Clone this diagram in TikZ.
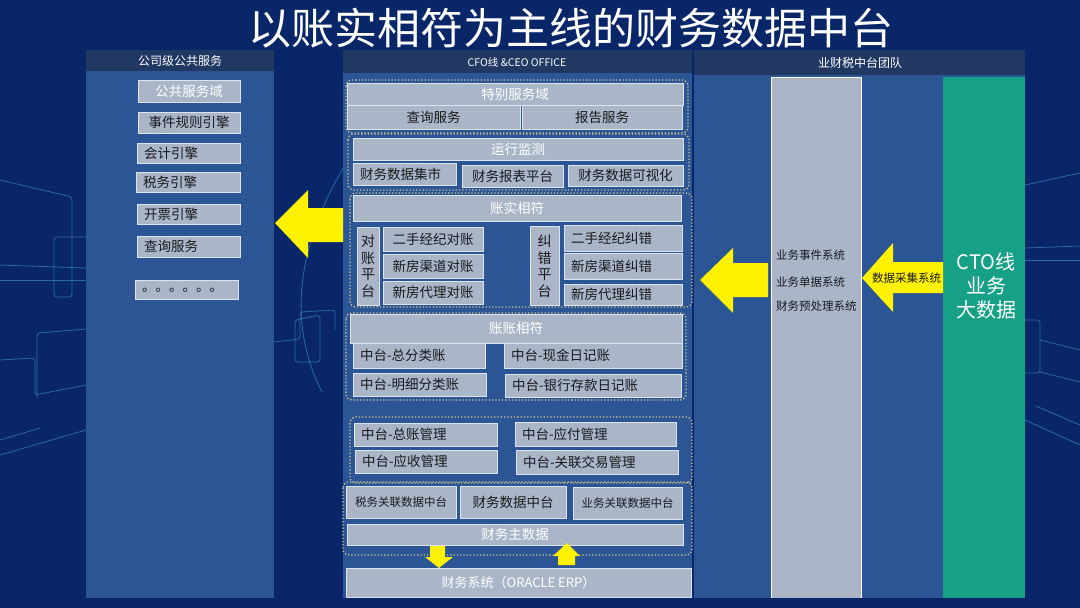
\documentclass[tikz,border=0pt]{standalone}
\usepackage{fontspec}
\setmainfont{Noto Sans CJK SC}
\usetikzlibrary{positioning}

\definecolor{bgnavy}{RGB}{8,38,104}
\definecolor{panelblue}{RGB}{44,85,150}
\definecolor{headband}{RGB}{32,56,98}
\definecolor{boxgray}{RGB}{170,182,200}
\definecolor{boxedge}{RGB}{220,228,240}
\definecolor{dotline}{RGB}{205,198,140}
\definecolor{ctoteal}{RGB}{22,160,133}
\definecolor{lineglow}{RGB}{80,170,225}
\definecolor{inkdark}{RGB}{25,25,30}

\newcommand{\fsz}[1]{\fontsize{#1}{#1}\selectfont}

\begin{document}
\begin{tikzpicture}[x=1pt, y=-1pt,
        box/.style={draw=boxedge, fill=boxgray, line width=0.7pt, inner sep=0pt,
                text=inkdark, font=\fsz{13.5}},
        lbox/.style={box, align=left, inner xsep=7pt},
        ttl/.style={box, text=white},
        grp/.style={draw=dotline, dotted, line width=1.3pt, rounded corners=6pt},
        hdr/.style={text=white, font=\fsz{12}},
        sidetxt/.style={text=inkdark, font=\fsz{11.5}, anchor=west, inner sep=0pt},
        glow/.style={draw=lineglow, opacity=0.5, line width=0.8pt, rounded corners=3pt},
        bigarrow/.style={fill=yellow, draw=none}]

        \useasboundingbox (0,0) rectangle (1080,608);
        \fill[bgnavy] (0,0) rectangle (1080,608);

        %-- Hintergrund: feine Leiterbahnen --
        \draw[glow] (0,180) -- (72,197) -- (72,297) -- (54,297) -- (54,237) -- (86,237);
        \draw[glow] (0,265) -- (86,268);
        \draw[glow] (0,280) -- (86,280);
        \draw[glow] (0,360) -- (35,358) -- (35,395) -- (86,385);
        \draw[glow] (37,398) -- (37,333) -- (86,329);
        \draw[glow] (0,440) -- (40,428);
        \draw[glow] (0,455) -- (86,430);
        \draw[glow] (1025,185) -- (1080,173);
        \draw[glow] (1025,248) -- (1080,246);
        \draw[glow] (1025,260) -- (1080,260);
        \draw[glow] (1025,320) -- (1040,320) -- (1040,373) -- (1025,373);
        \draw[glow] (1040,340) -- (1080,350);
        \draw[glow] (1040,372) -- (1080,382);
        \draw[glow] (1036,406) -- (1080,425);
        \draw[glow] (1025,420) -- (1080,445);
        \draw[draw=lineglow, opacity=0.5, line width=0.8pt]
        (345,165) .. controls (300,240) and (285,320) .. (322,392);
        \draw[glow] (274,342) -- (300,339) -- (300,312) -- (335,310) -- (335,330);
        \draw[glow] (295,320) -- (320,315) -- (320,362) -- (295,362) -- cycle;

        %-- Titel --
        \node[text=white, font=\fsz{43}] (title) at (571,28) {以账实相符为主线的财务数据中台};

        %-- Linke Spalte: Gemeinsame Dienste --
        \fill[panelblue] (86,50) rectangle (274,598);
        \fill[headband] (86,50) rectangle (274,71);
        \node[hdr] (lhdr) at (180,61) {公司级公共服务};

        \node[ttl, minimum width=102, minimum height=22] (ggfw) at (189,91) {公共服务域};
        \node[box, minimum width=102, minimum height=21] (sjgz) at (189,122.5) {事件规则引擎};
        \node[lbox, text width=89, minimum height=20] (kjyq) at (188.5,153) {会计引擎};
        \node[lbox, text width=90, minimum height=20] (swyq) at (188,182) {税务引擎};
        \node[lbox, text width=89, minimum height=20] (kpyq) at (188.5,214) {开票引擎};
        \node[lbox, text width=89, minimum height=21] (cxfw) at (188.5,246.5) {查询服务};
        \node[lbox, text width=89, minimum height=19, text depth=-3pt] (more) at (186.5,289.5) {。。。。。。};

        %-- Mittlere Spalte: CFO --
        \fill[panelblue] (343,50) rectangle (692,598);
        \fill[headband] (343,50) rectangle (692,73);
        \node[hdr, font=\fsz{10.5}] (mhdr) at (517,62) {CFO线 \&CEO OFFICE};

        % Gruppe 1
        \draw[grp] (346,80) rectangle (688,133);
        \node[ttl, minimum width=336, minimum height=22] (tbfw) at (515,94) {特别服务域};
        \node[box, minimum width=173, minimum height=24] (cxfw2) at (433.5,117) {查询服务};
        \node[box, minimum width=160, minimum height=24] (bgfw) at (602,117) {报告服务};

        % Gruppe 2
        \draw[grp] (348,134) rectangle (689,190);
        \node[ttl, minimum width=330, minimum height=22] (yxjc) at (518,149) {运行监测};
        \node[lbox, text width=89, minimum height=22] (sjjs) at (404.5,174) {财务数据集市};
        \node[box, minimum width=101, minimum height=22] (bbpt) at (512.5,176) {财务报表平台};
        \node[box, minimum width=115, minimum height=21] (ksh) at (625.5,175.5) {财务数据可视化};

        % Gruppe 3: 账实相符
        \draw[grp] (350,193) rectangle (692,307);
        \node[ttl, minimum width=328, minimum height=26] (zsxf) at (517,208) {账实相符};
        \node[box, minimum width=22, minimum height=78, align=center,
                font=\fontsize{14}{16.5}\selectfont] (dzpt) at (368,266) {对\\账\\平\\台};
        \node[box, minimum width=100, minimum height=24] (dz1) at (433,239) {二手经纪对账};
        \node[box, minimum width=100, minimum height=24] (dz2) at (433,266) {新房渠道对账};
        \node[box, minimum width=100, minimum height=23] (dz3) at (433,292.5) {新房代理对账};
        \node[box, minimum width=29, minimum height=79, align=center,
                font=\fontsize{14}{16.5}\selectfont] (jcpt) at (544.5,266) {纠\\错\\平\\台};
        \node[lbox, text width=104, minimum height=26] (jc1) at (623,238) {二手经纪纠错};
        \node[lbox, text width=104, minimum height=26] (jc2) at (623,266) {新房渠道纠错};
        \node[lbox, text width=104, minimum height=21] (jc3) at (623,294.5) {新房代理纠错};

        % Gruppe 4: 账账相符
        \draw[grp] (346,313) rectangle (686,400);
        \node[ttl, minimum width=332, minimum height=29] (zzxf) at (516,328.5) {账账相符};
        \node[lbox, text width=118, minimum height=25] (zfl) at (419,355.5) {中台-总分类账};
        \node[lbox, text width=164, minimum height=25] (xjrj) at (593,355.5) {中台-现金日记账};
        \node[lbox, text width=119, minimum height=23] (mxfl) at (419.5,384.5) {中台-明细分类账};
        \node[lbox, text width=162, minimum height=23] (yhck) at (593,385.5) {中台-银行存款日记账};

        % Gruppe 5
        \draw[grp] (350,417) rectangle (692,483);
        \node[lbox, text width=129, minimum height=23] (zzgl) at (425.5,434.5) {中台-总账管理};
        \node[lbox, text width=147, minimum height=24] (yfgl) at (595.5,434) {中台-应付管理};
        \node[lbox, text width=128, minimum height=23] (ysgl) at (426,461.5) {中台-应收管理};
        \node[lbox, text width=148, minimum height=24] (gljy) at (597,462) {中台-关联交易管理};

        % Gruppe 6
        \draw[grp] (343,482) rectangle (692,555);
        \node[box, minimum width=110, minimum height=32, font=\fsz{11.5}, text depth=-4pt] (swgl) at (401,502) {税务关联数据中台};
        \node[box, minimum width=106, minimum height=32] (cwsj) at (513,502) {财务数据中台};
        \node[box, minimum width=109, minimum height=32, font=\fsz{11.5}] (ywgl) at (627.5,503) {业务关联数据中台};
        \node[ttl, minimum width=336, minimum height=21] (zsj) at (515,534.5) {财务主数据};

        % ERP
        \node[ttl, minimum width=345, minimum height=29, font=\fsz{13}] (erp) at (518.5,582.5) {财务系统（ORACLE ERP）};

        % Pfeile zwischen 财务主数据 und ERP
        \fill[bigarrow] (430,546) -- (445,546) -- (445,557) -- (453,557) -- (439,568) -- (425,557) -- (430,557) -- cycle;
        \fill[bigarrow] (567,543) -- (580,556) -- (575,556) -- (575,565) -- (558,565) -- (558,556) -- (553,556) -- cycle;

        %-- Rechte Spalte: 业财税中台团队 --
        \fill[panelblue] (694,50) rectangle (1025,598);
        \fill[headband] (694,50) rectangle (1025,75);
        \node[hdr] (rhdr) at (860,63) {业财税中台团队};
        \fill[boxgray] (771,77) rectangle (861,598);
        \draw[white, line width=0.7pt] (771,598) -- (771,77) -- (861,77) -- (861,598);
        \fill[ctoteal] (943,77) rectangle (1025,598);

        \node[sidetxt] (ywsj) at (776,255) {业务事件系统};
        \node[sidetxt] (ywdj) at (776,282) {业务单据系统};
        \node[sidetxt] (cwycl) at (776,306) {财务预处理系统};

        \node[align=center, text=white, font=\fontsize{20}{24}\selectfont] (cto) at (986,286) {CTO线\\业务\\大数据};

        %-- Große gelbe Pfeile --
        \fill[bigarrow] (275,223) -- (308,190) -- (308,208) -- (343,208) -- (343,242) -- (308,242) -- (308,258) -- cycle;
        \fill[bigarrow] (700,280) -- (733,248) -- (733,263) -- (768,263) -- (768,297) -- (733,297) -- (733,313) -- cycle;
        \fill[bigarrow] (862,278) -- (893,243) -- (893,262) -- (943,262) -- (943,293) -- (893,293) -- (893,312) -- cycle;
        \node[sidetxt] (sjcj) at (872,278) {数据采集系统};

    \end{tikzpicture}
\end{document}
